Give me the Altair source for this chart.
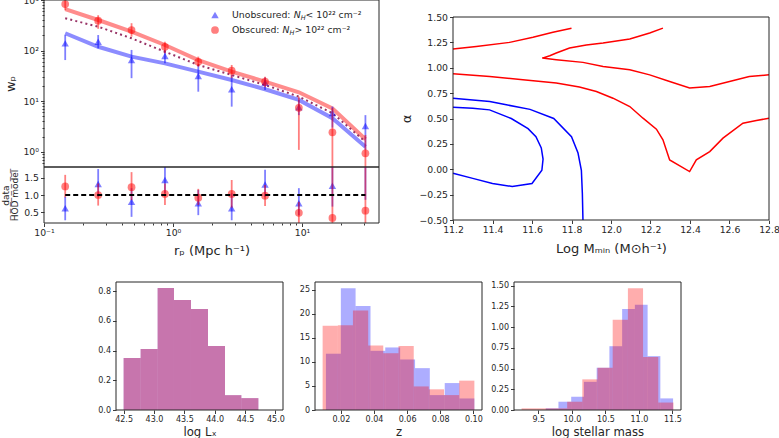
import altair as alt
import pandas as pd

FONT = "DejaVu Sans"
INK = "#262626"
BLUE = "#0000ff"
RED = "#ff0000"
PLUM = "#993366"
W, H = 779, 438

# ---------------- projected correlation function ----------------
rp = [0.146, 0.263, 0.477, 0.866, 1.57, 2.85, 5.17, 9.45, 17.2, 31.0]

wp_unobs = [139, 150, 65, 78, 31.5, 17.2, 23.2, 7.6, 5.8, 3.24]
wp_unobs_lo = [65, 111, 28.5, 56, 15.4, 7.8, 16.6, 5.3, 3.0, 1.09]
wp_unobs_hi = [203, 203, 103, 103, 52, 33, 29.5, 10.6, 7.8, 5.3]

wp_obs = [830, 390, 255, 119, 60, 40, 24.3, 7.4, 2.43, 0.93]
wp_obs_lo = [635, 270, 188, 89, 48, 28.5, 18.8, 1.09, 0.3, 0.3]
wp_obs_hi = [1300, 500, 348, 150, 76, 52, 30.5, 12.3, 7.3, 2.15]

hod_unobs = [220, 119, 76, 56, 38.3, 26.2, 17.2, 10.6, 4.6, 1.26]
hod_obs = [658, 402, 237, 129, 65, 38.3, 24.3, 15.0, 7.2, 1.77]
hod_full = [435, 297, 175, 95, 52, 33, 20.9, 12.3, 5.8, 1.58]

ratio_unobs = [0.61, 1.32, 0.80, 1.44, 0.76, 0.61, 1.31, 0.76, 1.27, 2.57]
ratio_unobs_lo = [0.26, 0.95, 0.36, 1.05, 0.41, 0.26, 0.95, 0.41, 0.66, 0.86]
ratio_unobs_hi = [0.95, 1.76, 1.20, 1.90, 1.15, 1.05, 1.74, 1.20, 2.50, 4.20]

ratio_obs = [1.25, 1.00, 1.23, 1.03, 0.92, 1.03, 0.98, 0.48, 0.33, 0.54]
ratio_obs_lo = [0.93, 0.69, 0.85, 0.71, 0.71, 0.63, 0.68, 0.10, 0.00, 0.00]
ratio_obs_hi = [1.59, 1.34, 1.67, 1.34, 1.18, 1.44, 1.29, 0.80, 2.50, 2.50]

wp_major = [1, 10, 100, 1000]
wp_minor = [0.6, 0.7, 0.8, 0.9, 2, 3, 4, 5, 6, 7, 8, 9,
            20, 30, 40, 50, 60, 70, 80, 90, 200, 300, 400, 500, 600, 700, 800, 900]
rp_major = [0.1, 1, 10]
rp_minor = [0.2, 0.3, 0.4, 0.5, 0.6, 0.7, 0.8, 0.9, 2, 3, 4, 5, 6, 7, 8, 9, 20, 30]

# ---------------- HOD parameter constraints ----------------
unobs_in_m = [11.20, 11.30, 11.40, 11.50, 11.60, 11.65, 11.656, 11.647, 11.62, 11.58, 11.495, 11.385, 11.30, 11.20]
unobs_in_a = [-0.04, -0.09, -0.14, -0.17, -0.14, -0.01, 0.10, 0.21, 0.32, 0.40, 0.50, 0.585, 0.60, 0.61]
unobs_out_m = [11.20, 11.386, 11.47, 11.59, 11.71, 11.80, 11.833, 11.85, 11.855, 11.858]
unobs_out_a = [0.70, 0.668, 0.635, 0.59, 0.50, 0.32, 0.16, -0.01, -0.24, -0.50]
obs_top_m = [11.20, 11.318, 11.487, 11.605, 11.706, 11.80]
obs_top_a = [1.184, 1.21, 1.25, 1.30, 1.35, 1.39]
obs_mid_m = [12.263, 12.196, 12.095, 11.96, 11.875, 11.79, 11.723, 11.69, 11.652, 11.723,
             11.858, 11.96, 12.095, 12.196, 12.297, 12.398, 12.50, 12.60, 12.70, 12.80]
obs_mid_a = [1.39, 1.342, 1.283, 1.243, 1.224, 1.194, 1.145, 1.118, 1.095, 1.079,
             1.053, 1.013, 0.98, 0.93, 0.865, 0.80, 0.816, 0.865, 0.914, 0.93]
obs_low_m = [11.20, 11.386, 11.554, 11.723, 11.84, 11.926, 12.01, 12.095, 12.162, 12.23,
             12.263, 12.297, 12.398, 12.432, 12.50, 12.567, 12.668, 12.736, 12.80]
obs_low_a = [0.94, 0.914, 0.882, 0.849, 0.81, 0.766, 0.70, 0.618, 0.503, 0.395,
             0.29, 0.092, -0.023, 0.092, 0.174, 0.306, 0.454, 0.48, 0.503]

# ---------------- sample property distributions ----------------
lx_edges = [42.50, 42.78, 43.06, 43.33, 43.61, 43.89, 44.17, 44.44, 44.72, 45.00]
lx_unobs = [0.35, 0.41, 0.82, 0.74, 0.68, 0.43, 0.10, 0.08, 0.00]
lx_obs = [0.35, 0.41, 0.82, 0.74, 0.68, 0.43, 0.10, 0.08, 0.00]

z_edges_unobs = [0.0110, 0.0200, 0.0289, 0.0379, 0.0468, 0.0558, 0.0648, 0.0737, 0.0827, 0.0916, 0.1006]
z_unobs = [11.7, 25.3, 21.6, 12.3, 13.0, 10.5, 8.7, 3.1, 5.6, 2.4]
z_edges_obs = [0.0090, 0.0182, 0.0273, 0.0365, 0.0456, 0.0548, 0.0640, 0.0731, 0.0823, 0.0914, 0.1006]
z_obs = [17.5, 17.6, 20.7, 13.4, 11.8, 13.3, 4.9, 4.3, 3.1, 6.1]

ms_edges_unobs = [9.610, 9.800, 9.990, 10.180, 10.370, 10.560, 10.750, 10.940, 11.130, 11.320, 11.510]
ms_unobs = [0.02, 0.10, 0.16, 0.34, 0.51, 0.77, 1.22, 1.27, 0.65, 0.14]
ms_edges_obs = [9.250, 9.477, 9.703, 9.930, 10.156, 10.383, 10.609, 10.836, 11.062, 11.289, 11.515]
ms_obs = [0.02, 0.02, 0.02, 0.10, 0.37, 0.51, 1.09, 1.47, 0.64, 0.09]

# panel boxes in the figure (left, right, top, bottom), pixels
BOX_WP = (44, 379, 0, 167)
BOX_RATIO = (44, 379, 167, 223)
BOX_HOD = (453, 769, 17, 220)
BOX_LX = (116, 283, 282, 410)
BOX_Z = (315, 482, 282, 410)
BOX_MS = (514, 681, 282, 410)

one = alt.Chart(pd.DataFrame({"k": [0]}))


def xscale(box, dom, log=False):
    kw = dict(domain=dom, range=[box[0], box[1]], nice=False, zero=False, clamp=True)
    if log:
        kw["type"] = "log"
    return alt.Scale(**kw)


def yscale(box, dom, log=False):
    kw = dict(domain=dom, range=[box[3], box[2]], nice=False, zero=False, clamp=True)
    if log:
        kw["type"] = "log"
    return alt.Scale(**kw)


def left_axis(box, **kw):
    return alt.Axis(orient="left", offset=-box[0], **kw)


def bottom_axis(box, **kw):
    return alt.Axis(orient="bottom", offset=box[3] - H, **kw)


def frame(sx, sy, xdom, ydom):
    df = pd.DataFrame({"x0": [xdom[0]], "x1": [xdom[1]], "y0": [ydom[0]], "y1": [ydom[1]]})
    return alt.Chart(df).mark_rect(fillOpacity=0, stroke=INK, strokeWidth=1).encode(
        x=alt.X("x0:Q", scale=sx, axis=None), x2="x1",
        y=alt.Y("y0:Q", scale=sy, axis=None), y2="y1")


def axes_only(df, xfield, yfield, sx, sy, xaxis=None, yaxis=None):
    """Invisible layer whose only job is to carry a panel's axes."""
    return alt.Chart(df).mark_point(opacity=0).encode(
        x=alt.X(f"{xfield}:Q", scale=sx, axis=xaxis),
        y=alt.Y(f"{yfield}:Q", scale=sy, axis=yaxis))


# ================= w_p(r_p) panel =================
RP_DOM = [0.1, 39.5]
WP_DOM = [0.5, 1000]
sx_wp = xscale(BOX_WP, RP_DOM, log=True)
sy_wp = yscale(BOX_WP, WP_DOM, log=True)

wp_df = pd.DataFrame({
    "rp": rp,
    "wp_u": wp_unobs, "lo_u": wp_unobs_lo, "hi_u": wp_unobs_hi,
    "wp_o": wp_obs, "lo_o": wp_obs_lo, "hi_o": wp_obs_hi,
    "m_u": hod_unobs, "m_o": hod_obs, "m_all": hod_full,
})
base = alt.Chart(wp_df)
x_wp = alt.X("rp:Q", scale=sx_wp, axis=None)


def y_wp(field):
    return alt.Y(f"{field}:Q", scale=sy_wp, axis=None)


def legend_text(txt, x, y, size=9.3, italic=False, dy=0):
    kw = dict(align="left", baseline="middle", font=FONT, fontSize=size, color=INK, dy=dy)
    if italic:
        kw["fontStyle"] = "italic"
    return one.mark_text(**kw).encode(x=alt.value(x), y=alt.value(y), text=alt.value(txt))


NB = "\u00a0"
wp_panel = alt.layer(
    base.mark_line(color=BLUE, strokeWidth=4, opacity=0.45).encode(x=x_wp, y=y_wp("m_u")),
    base.mark_line(color=RED, strokeWidth=4, opacity=0.45).encode(x=x_wp, y=y_wp("m_o")),
    base.mark_line(color=PLUM, strokeWidth=2, strokeDash=[2, 3.2]).encode(x=x_wp, y=y_wp("m_all")),
    base.mark_rule(color=BLUE, strokeWidth=1.8, opacity=0.5).encode(x=x_wp, y=y_wp("lo_u"), y2="hi_u"),
    base.mark_point(shape="triangle-up", filled=True, size=55, color=BLUE, opacity=0.5).encode(
        x=x_wp, y=y_wp("wp_u")),
    base.mark_rule(color=RED, strokeWidth=1.8, opacity=0.5).encode(x=x_wp, y=y_wp("lo_o"), y2="hi_o"),
    base.mark_point(shape="circle", filled=True, size=60, color=RED, opacity=0.5).encode(
        x=x_wp, y=y_wp("wp_o")),
    frame(sx_wp, sy_wp, RP_DOM, WP_DOM),
    # log axis: labelled decades plus minor ticks
    axes_only(wp_df, "rp", "wp_o", sx_wp, sy_wp, yaxis=left_axis(
        BOX_WP, values=wp_major, title="wₚ", titlePadding=5,
        labelExpr="datum.value < 5 ? '10⁰' : datum.value < 50 ? '10¹' : datum.value < 500 ? '10²' : '10³'")),
    axes_only(wp_df, "rp", "wp_o", sx_wp, sy_wp, yaxis=left_axis(
        BOX_WP, values=wp_minor, labels=False, tickSize=2, title="")),
    # legend
    one.mark_point(shape="triangle-up", filled=True, size=55, color=BLUE, opacity=0.5).encode(
        x=alt.value(215), y=alt.value(15)),
    one.mark_point(shape="circle", filled=True, size=60, color=RED, opacity=0.5).encode(
        x=alt.value(215), y=alt.value(30)),
    legend_text("Unobscured:", 232, 15),
    legend_text("N", 293.7, 15, italic=True),
    legend_text("H", 300.7, 15, size=6.5, italic=True, dy=3),
    legend_text(NB + "<" + NB + "10²²" + NB + "cm⁻²", 305.6, 15),
    legend_text("Obscured:", 232, 30),
    legend_text("N", 282.6, 30, italic=True),
    legend_text("H", 289.6, 30, size=6.5, italic=True, dy=3),
    legend_text(NB + ">" + NB + "10²²" + NB + "cm⁻²", 294.5, 30),
).resolve_axis(x="independent", y="independent")

# ================= data / model ratio panel =================
R_DOM = [0.18, 1.82]
sx_r = xscale(BOX_RATIO, RP_DOM, log=True)
sy_r = yscale(BOX_RATIO, R_DOM)
ratio_df = pd.DataFrame({
    "rp": rp,
    "r_u": ratio_unobs, "lo_u": ratio_unobs_lo, "hi_u": ratio_unobs_hi,
    "r_o": ratio_obs, "lo_o": ratio_obs_lo, "hi_o": ratio_obs_hi,
})
rbase = alt.Chart(ratio_df)
unity = alt.Chart(pd.DataFrame({"rp": [rp[0], rp[-1]], "one": [1.0, 1.0]}))
x_r = alt.X("rp:Q", scale=sx_r, axis=None)


def y_r(field):
    return alt.Y(f"{field}:Q", scale=sy_r, axis=None)


ratio_panel = alt.layer(
    rbase.mark_rule(color=BLUE, strokeWidth=1.8, opacity=0.5).encode(x=x_r, y=y_r("lo_u"), y2="hi_u"),
    rbase.transform_filter(alt.datum.r_u <= R_DOM[1]).mark_point(
        shape="triangle-up", filled=True, size=55, color=BLUE, opacity=0.5).encode(x=x_r, y=y_r("r_u")),
    rbase.mark_rule(color=RED, strokeWidth=1.8, opacity=0.5).encode(x=x_r, y=y_r("lo_o"), y2="hi_o"),
    rbase.transform_filter(alt.datum.r_o <= R_DOM[1]).mark_point(
        shape="circle", filled=True, size=60, color=RED, opacity=0.5).encode(x=x_r, y=y_r("r_o")),
    unity.mark_line(color="black", strokeWidth=1.8, strokeDash=[5, 3]).encode(x=x_r, y=y_r("one")),
    frame(sx_r, sy_r, RP_DOM, R_DOM),
    axes_only(ratio_df, "rp", "r_o", sx_r, sy_r,
              xaxis=bottom_axis(BOX_RATIO, values=rp_major, title="rₚ (Mpc h⁻¹)", titlePadding=7,
                                labelExpr="datum.value < 0.5 ? '10⁻¹' : datum.value < 5 ? '10⁰' : '10¹'"),
              yaxis=left_axis(BOX_RATIO, values=[0.5, 1.0, 1.5], format=".1f",
                              title=["data", "H̅O̅D̅ ̅m̅o̅d̅e̅l̅"],
                              titleFontSize=9, titleLineHeight=9.5, titlePadding=4)),
    axes_only(ratio_df, "rp", "r_o", sx_r, sy_r,
              xaxis=bottom_axis(BOX_RATIO, values=rp_minor, labels=False, tickSize=2, title="")),
).resolve_axis(x="independent", y="independent")

# ================= HOD contour panel =================
M_DOM = [11.2, 12.8]
A_DOM = [-0.5, 1.5]
sx_c = xscale(BOX_HOD, M_DOM)
sy_c = yscale(BOX_HOD, A_DOM)


def path(m, a, name, sample):
    return pd.DataFrame({"m": m, "a": a, "i": list(range(len(m))), "seg": name, "sample": sample})


contours = pd.concat([
    path(unobs_in_m, unobs_in_a, "u1", "unobscured"),
    path(unobs_out_m, unobs_out_a, "u2", "unobscured"),
    path(obs_top_m, obs_top_a, "o1", "obscured"),
    path(obs_mid_m, obs_mid_a, "o2", "obscured"),
    path(obs_low_m, obs_low_a, "o3", "obscured"),
])
hod_panel = alt.layer(
    alt.Chart(contours).mark_line(strokeWidth=1.5).encode(
        x=alt.X("m:Q", scale=sx_c, axis=None),
        y=alt.Y("a:Q", scale=sy_c, axis=None),
        color=alt.Color("sample:N", scale=alt.Scale(domain=["unobscured", "obscured"], range=[BLUE, RED]),
                        legend=None),
        detail="seg:N",
        order="i:Q",
    ),
    frame(sx_c, sy_c, M_DOM, A_DOM),
    axes_only(contours, "m", "a", sx_c, sy_c,
              xaxis=bottom_axis(BOX_HOD, values=[11.2, 11.4, 11.6, 11.8, 12.0, 12.2, 12.4, 12.6, 12.8],
                                format=".1f", title="Log Mₘᵢₙ (M⊙h⁻¹)", titlePadding=8),
              yaxis=left_axis(BOX_HOD, values=[-0.5, -0.25, 0.0, 0.25, 0.5, 0.75, 1.0, 1.25, 1.5],
                              format=".2f", title="α", titlePadding=6)),
).resolve_axis(x="independent", y="independent")

# ================= histograms =================


def hist_panel(box, edges_u, h_u, edges_o, h_o, xdom, xticks, xfmt, ydom, yticks, yfmt, title):
    du = pd.DataFrame({"lo": edges_u[:-1], "hi": edges_u[1:], "h": h_u})
    do = pd.DataFrame({"lo": edges_o[:-1], "hi": edges_o[1:], "h": h_o})
    sx = xscale(box, xdom)
    sy = yscale(box, ydom)
    bu = alt.Chart(du).mark_rect(color=BLUE, opacity=0.32).encode(
        x=alt.X("lo:Q", scale=sx, axis=None), x2="hi",
        y=alt.Y("h:Q", scale=sy, axis=None), y2=alt.datum(0))
    bo = alt.Chart(do).mark_rect(color=RED, opacity=0.32).encode(
        x=alt.X("lo:Q", scale=sx, axis=None), x2="hi",
        y=alt.Y("h:Q", scale=sy, axis=None), y2=alt.datum(0))
    ax = axes_only(du, "lo", "h", sx, sy,
                   xaxis=bottom_axis(box, values=xticks, format=xfmt, title=title, labelFontSize=8,
                                     titleFontSize=11.7, titlePadding=3),
                   yaxis=left_axis(box, values=yticks, format=yfmt, title="", labelFontSize=8))
    return alt.layer(bu, bo, frame(sx, sy, xdom, ydom), ax).resolve_axis(x="independent", y="independent")


h_lx = hist_panel(BOX_LX, lx_edges, lx_unobs, lx_edges, lx_obs,
                  [42.375, 45.125], [42.5, 43.0, 43.5, 44.0, 44.5, 45.0], ".1f",
                  [0, 0.861], [0.0, 0.2, 0.4, 0.6, 0.8], ".1f", "log Lₓ")
h_z = hist_panel(BOX_Z, z_edges_unobs, z_unobs, z_edges_obs, z_obs,
                 [0.0044, 0.1052], [0.02, 0.04, 0.06, 0.08, 0.10], ".2f",
                 [0, 26.6], [0, 5, 10, 15, 20, 25], "d", "z")
h_ms = hist_panel(BOX_MS, ms_edges_unobs, ms_unobs, ms_edges_obs, ms_obs,
                  [9.137, 11.628], [9.5, 10.0, 10.5, 11.0, 11.5], ".1f",
                  [0, 1.545], [0.0, 0.25, 0.5, 0.75, 1.0, 1.25, 1.5], ".2f", "log stellar mass")

chart = alt.layer(
    wp_panel, ratio_panel, hod_panel, h_lx, h_z, h_ms
).resolve_scale(
    x="independent", y="independent", color="independent"
).properties(
    width=W, height=H, padding=0,
    autosize=alt.AutoSizeParams(type="none"),
    background="white",
).configure_view(
    stroke="transparent"
).configure_axis(
    domain=False, grid=False, tickColor=INK, tickSize=3.5, tickWidth=0.9,
    labelColor=INK, labelFont=FONT, labelFontSize=9.3, labelPadding=2,
    titleColor=INK, titleFont=FONT, titleFontSize=13, titleFontWeight="normal",
).configure_axisX(labelFlush=False)

chart.save("out.html", embed_options={"renderer": "svg", "actions": False})
